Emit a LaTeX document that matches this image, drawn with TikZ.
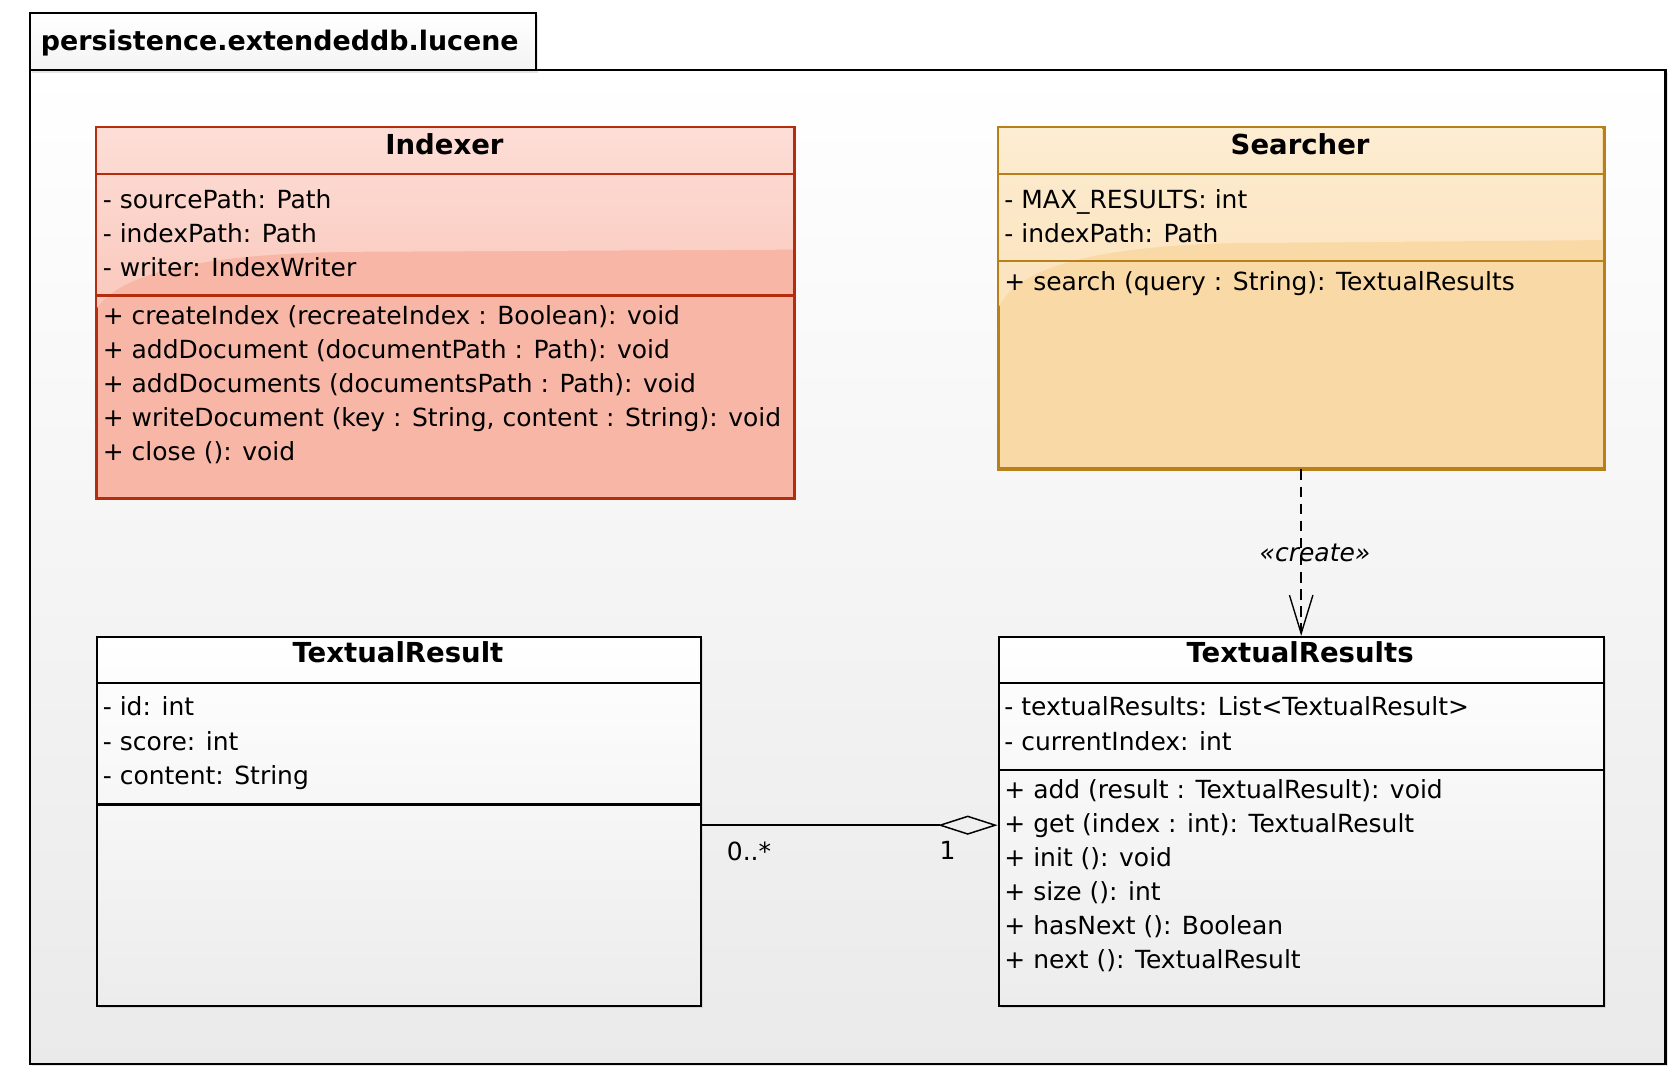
\documentclass[tikz,border=0pt]{standalone}
\usepackage{fontspec}
\setmainfont{DejaVu Sans}
\usepackage{tikz}
\usetikzlibrary{arrows.meta, positioning, shadows}

\definecolor{indexertop}{RGB}{253,222,215}
\definecolor{indexermid}{RGB}{250,200,188}
\definecolor{indexerbody}{RGB}{248,182,166}
\definecolor{indexerline}{RGB}{180,45,14}
\definecolor{searchertop}{RGB}{253,237,210}
\definecolor{searchermid}{RGB}{251,226,188}
\definecolor{searcherbody}{RGB}{249,217,166}
\definecolor{searcherline}{RGB}{184,128,26}
\definecolor{classgray}{RGB}{236,236,236}
\definecolor{pkggray}{RGB}{234,234,234}

\begin{document}
\begin{tikzpicture}[
    x=0.5pt, y=-0.5pt,
    every node/.style={font=\fontsize{11.7}{14}\selectfont, inner sep=0pt},
    classbox/.style={draw, line width=1pt, anchor=north west,
      drop shadow={shadow xshift=1pt, shadow yshift=-1pt, opacity=0.2}},
    classtitle/.style={font=\fontsize{12.9}{15}\selectfont\bfseries, anchor=base},
    member/.style={anchor=base west},
    dependency/.style={line width=0.65pt, dash pattern=on 5pt off 3pt,
      -{Straight Barb[length=18pt, width=11pt]}},
    aggregation/.style={line width=0.7pt, -{Diamond[open, length=28pt, width=9pt]}}
  ]

  \useasboundingbox (0,0) rectangle (1568,1004);

  % Paquete
  \node[classbox, top color=white, bottom color=pkggray, minimum width=766.5pt,
    minimum height=465.5pt] (pkg) at (27,65) {};
  \node[classbox, top color=white, bottom color=classgray!60, minimum width=237pt,
    minimum height=27pt] (pkgtab) at (27,11) {};
  \node[classtitle, anchor=base west, font=\fontsize{12.6}{15}\selectfont\bfseries]
    (pkgname) at (38,47) {persistence.extendeddb.lucene};

  % Indexer
  \node[classbox, draw=indexerline, fill=indexerbody, minimum width=326.5pt,
    minimum height=173.5pt] (indexer) at (90,119) {};
  \begin{scope}
    \clip (90,119) rectangle (743,466);
    \shade[top color=indexertop, bottom color=indexermid] (90,119) -- (743,119) -- (743,234)
      -- (330,236) .. controls (180,238) and (110,258) .. (90,290) -- cycle;
  \end{scope}
  \draw[indexerline, line width=1pt] (indexer.north west) rectangle (indexer.south east);
  \draw[indexerline, line width=1pt] (90,163) -- (743,163) (90,277) -- (743,277);
  \node[classtitle] (indexertitle) at (416.5,145) {Indexer};
  \foreach \t [count=\i] in {- sourcePath: Path, - indexPath: Path, - writer: IndexWriter}
    \node[member] (indexerattr\i) at (96,{195+32*(\i-1)}) {\t};
  \foreach \t [count=\i] in {{+ createIndex (recreateIndex : Boolean): void},
      {+ addDocument (documentPath : Path): void},
      {+ addDocuments (documentsPath : Path): void},
      {+ writeDocument (key : String, content : String): void},
      {+ close (): void}}
    \node[member] (indexerop\i) at (96,{304+32*(\i-1)}) {\t};

  % Searcher
  \node[classbox, draw=searcherline, fill=searcherbody, minimum width=283.5pt,
    minimum height=159.5pt] (searcher) at (935,119) {};
  \begin{scope}
    \clip (935,119) rectangle (1502,438);
    \shade[top color=searchertop, bottom color=searchermid] (935,119) -- (1502,119) -- (1502,225)
      -- (1150,228) .. controls (1010,232) and (950,255) .. (935,290) -- cycle;
  \end{scope}
  \draw[searcherline, line width=1pt] (searcher.north west) rectangle (searcher.south east);
  \draw[searcherline, line width=1pt] (935,163) -- (1502,163) (935,245) -- (1502,245);
  \node[classtitle] (searchertitle) at (1218.5,145) {Searcher};
  \node[member] (searcherattr1) at (941,195) {- MAX\_RESULTS: int};
  \node[member] (searcherattr2) at (941,227) {- indexPath: Path};
  \node[member] (searcherop1) at (941,272) {+ search (query : String): TextualResults};

  % TextualResult
  \node[classbox, top color=white, bottom color=classgray, minimum width=283pt,
    minimum height=173pt] (tresult) at (90,596) {};
  \draw[line width=1pt] (90,640) -- (656,640) (90,754) -- (656,754);
  \node[classtitle] (tresulttitle) at (373,621) {TextualResult};
  \foreach \t [count=\i] in {- id: int, - score: int, - content: String}
    \node[member] (tresultattr\i) at (96,{671+32*(\i-1)}) {\t};

  % TextualResults
  \node[classbox, top color=white, bottom color=classgray, minimum width=283.5pt,
    minimum height=173pt] (tresults) at (935,596) {};
  \draw[line width=1pt] (935,640) -- (1502,640) (935,722) -- (1502,722);
  \node[classtitle] (tresultstitle) at (1218.5,621) {TextualResults};
  \node[member] (tresultsattr1) at (941,671) {- textualResults: List<TextualResult>};
  \node[member] (tresultsattr2) at (941,703) {- currentIndex: int};
  \foreach \t [count=\i] in {{+ add (result : TextualResult): void},
      {+ get (index : int): TextualResult}, {+ init (): void}, {+ size (): int},
      {+ hasNext (): Boolean}, {+ next (): TextualResult}}
    \node[member] (tresultsop\i) at (941,{748+32*(\i-1)}) {\t};

  % Relaciones
  \draw[dependency] (searcher.south) -- (tresults.north)
    node[midway, xshift=6.5pt, font=\fontsize{11.7}{14}\selectfont\itshape] (createlabel) {«create»};
  \draw[aggregation] ([yshift=-1.7pt]tresult.east) -- ([yshift=-1.7pt]tresults.west);
  \node (multmany) at (702,798) {0..*};
  \node (multone) at (888,797) {1};

\end{tikzpicture}
\end{document}
